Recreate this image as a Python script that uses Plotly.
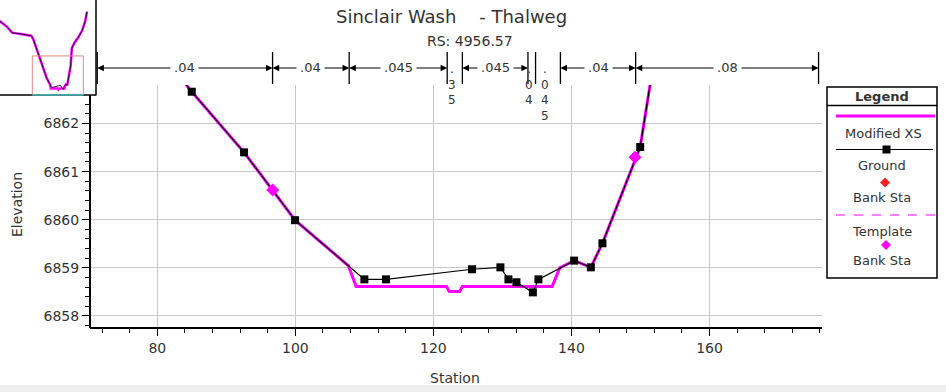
import plotly.graph_objects as go

W, H = 946, 392

# ---------------- data ----------------
ground_station = [0, 17, 28, 45, 68, 72, 84.99, 92.57, 99.96, 110.0, 113.14, 125.6, 129.71,
                  130.87, 132.03, 134.41, 135.22, 140.39, 142.81, 144.49, 149.96, 152.5,
                  158, 166, 174, 180, 184]
ground_elev = [6867.4, 6866.6, 6865.8, 6865.6, 6865.4, 6865.0, 6862.66, 6861.40, 6859.99,
               6858.76, 6858.76, 6858.97, 6859.01, 6858.76, 6858.70, 6858.49, 6858.76,
               6859.15, 6859.01, 6859.51, 6861.51, 6863.8, 6864.5, 6865.2, 6866.1, 6867.2,
               6868.5]

modified_station = [0, 17, 28, 45, 68, 72, 84.99, 92.57, 99.96, 107.7, 108.8, 121.9, 122.3,
                    123.8, 124.2, 137.2, 138.3, 140.39, 142.81, 144.49, 149.96, 152.5,
                    158, 166, 174, 180, 184]
modified_elev = [6867.4, 6866.6, 6865.8, 6865.6, 6865.4, 6865.0, 6862.66, 6861.40, 6859.99,
                 6859.04, 6858.61, 6858.61, 6858.51, 6858.51, 6858.61, 6858.61, 6859.0,
                 6859.15, 6859.01, 6859.51, 6861.51, 6863.8, 6864.5, 6865.2, 6866.1,
                 6867.2, 6868.5]

template_bank_station = [96.72, 149.2]
template_bank_elev = [6860.62, 6861.30]

n_breaks = [71.3, 96.7, 107.8, 122.0, 124.2, 133.7, 134.8, 138.4, 149.3, 175.8]
n_labels = [".04", ".04", ".045", ".35", ".045", ".04", ".045", ".04", ".08"]

x_range = [70.25, 176.3]
y_range = [6857.77, 6862.8]
inset_x_range = [3.07, 202.7]
inset_y_range = [6857.77, 6870.0]

title_text = "Sinclair Wash\u00a0\u00a0\u00a0\u00a0- Thalweg"
subtitle_text = "RS: 4956.57"

FONT = "DejaVu Sans"
TXT = "#333333"
MAG = "#FF00FF"


def px(x):
    return x / W


def py(y):
    return 1 - y / H


fig = go.Figure()

# main plot traces
fig.add_trace(go.Scatter(x=modified_station, y=modified_elev, mode="lines",
                         line=dict(color=MAG, width=3), xaxis="x", yaxis="y",
                         showlegend=False, hoverinfo="skip"))
fig.add_trace(go.Scatter(x=ground_station, y=ground_elev, mode="lines+markers",
                         line=dict(color="black", width=1.2),
                         marker=dict(symbol="square", size=8, color="black"),
                         xaxis="x", yaxis="y", showlegend=False))
fig.add_trace(go.Scatter(x=template_bank_station, y=template_bank_elev, mode="markers",
                         marker=dict(symbol="diamond", size=10, color=MAG),
                         xaxis="x", yaxis="y", showlegend=False))

# inset traces
fig.add_trace(go.Scatter(x=modified_station, y=modified_elev, mode="lines",
                         line=dict(color=MAG, width=2.5), xaxis="x2", yaxis="y2",
                         showlegend=False, hoverinfo="skip"))
fig.add_trace(go.Scatter(x=ground_station, y=ground_elev, mode="lines",
                         line=dict(color="#301040", width=1), xaxis="x2", yaxis="y2",
                         showlegend=False, hoverinfo="skip"))

shapes = []
annotations = []


def text(xp, yp, s, size=13, angle=0, bg=None):
    d = dict(x=px(xp), y=py(yp), xref="paper", yref="paper", text=s, showarrow=False,
             xanchor="center", yanchor="middle", textangle=angle,
             font=dict(family=FONT, size=size, color=TXT))
    if bg:
        d["bgcolor"] = bg
    return d


# main y-axis line (stops at inset bottom)
shapes.append(dict(type="line", xref="paper", yref="paper", x0=px(90), x1=px(90),
                   y0=py(95), y1=py(328), line=dict(color="black", width=2)))

# inset frame and view rectangle
shapes.append(dict(type="line", xref="paper", yref="paper", x0=px(96), x1=px(96),
                   y0=py(0), y1=py(95.5), line=dict(color="black", width=1.5)))
shapes.append(dict(type="line", xref="paper", yref="paper", x0=px(0), x1=px(96),
                   y0=py(95), y1=py(95), line=dict(color="black", width=1.5)))
shapes.append(dict(type="rect", xref="x2", yref="y2", x0=x_range[0], x1=x_range[1],
                   y0=y_range[0], y1=y_range[1], line=dict(color="#E08888", width=1)))
shapes.append(dict(type="line", xref="x2", yref="paper", x0=x_range[0], x1=x_range[1],
                   y0=py(95), y1=py(95), line=dict(color="#40B8B8", width=1.5)))

# Manning's n bars and arrows
Ya = py(68)
for b in n_breaks:
    shapes.append(dict(type="line", xref="x", yref="paper", x0=b, x1=b,
                       y0=py(52), y1=py(84), line=dict(color="black", width=1.3)))

for i, lab in enumerate(n_labels):
    a, b = n_breaks[i], n_breaks[i + 1]
    m = (a + b) / 2
    seg_px = (b - a) * 6.9
    if seg_px < len(lab) * 8 + 16:
        annotations.append(dict(x=m, y=py(60), xref="x", yref="paper", xshift=-2.5,
                                text="<br>".join(list(lab)), showarrow=False,
                                xanchor="center", yanchor="top",
                                font=dict(family=FONT, size=12, color=TXT)))
    else:
        for end in (a, b):
            annotations.append(dict(x=end, y=Ya, xref="x", yref="paper",
                                    ax=m, axref="x", ay=0, ayref="pixel",
                                    text="", showarrow=True, arrowhead=2,
                                    arrowsize=1.1, arrowwidth=1.2, arrowcolor="black",
                                    standoff=0, startstandoff=0))
for i, lab in enumerate(n_labels):
    a, b = n_breaks[i], n_breaks[i + 1]
    m = (a + b) / 2
    seg_px = (b - a) * 6.9
    if seg_px >= len(lab) * 8 + 16:
        annotations.append(dict(x=m, y=Ya, xref="x", yref="paper", text=lab,
                                showarrow=False, bgcolor="white", borderpad=3,
                                xanchor="center", yanchor="middle",
                                font=dict(family=FONT, size=13, color=TXT)))

# titles
annotations.append(text(451, 16, title_text, size=18))
annotations.append(text(470, 41, subtitle_text, size=14))
annotations.append(text(455, 378, "Station", size=14))
annotations.append(text(17, 205, "Elevation", size=14, angle=-90))

# custom legend
L, R, T, B = 827, 937, 87, 278
shapes.append(dict(type="rect", xref="paper", yref="paper", x0=px(L), x1=px(R),
                   y0=py(T), y1=py(B), line=dict(color="black", width=1.5),
                   fillcolor="white"))
shapes.append(dict(type="line", xref="paper", yref="paper", x0=px(L), x1=px(R),
                   y0=py(105.5), y1=py(105.5), line=dict(color="black", width=1.5)))
annotations.append(text(882, 96.5, "<b>Legend</b>"))
shapes.append(dict(type="line", xref="paper", yref="paper", x0=px(836), x1=px(935),
                   y0=py(116), y1=py(116), line=dict(color=MAG, width=3)))
annotations.append(text(883, 133, "Modified XS"))
shapes.append(dict(type="line", xref="paper", yref="paper", x0=px(836), x1=px(933),
                   y0=py(149.5), y1=py(149.5), line=dict(color="black", width=1)))
shapes.append(dict(type="rect", xref="paper", yref="paper", x0=px(882.5), x1=px(890.5),
                   y0=py(145.5), y1=py(153.5), line=dict(width=0), fillcolor="black"))
annotations.append(text(882, 165, "Ground"))


def diamond(cx, cy, r, color):
    path = "M {} {} L {} {} L {} {} L {} {} Z".format(
        px(cx), py(cy - r), px(cx + r), py(cy), px(cx), py(cy + r), px(cx - r), py(cy))
    return dict(type="path", xref="paper", yref="paper", path=path,
                fillcolor=color, line=dict(width=0))


shapes.append(diamond(885, 182.5, 5, "#FF2020"))
annotations.append(text(882, 197, "Bank Sta"))
shapes.append(dict(type="line", xref="paper", yref="paper", x0=px(836), x1=px(935),
                   y0=py(215), y1=py(215), line=dict(color=MAG, width=1.2, dash="dash")))
annotations.append(text(882, 231, "Template"))
shapes.append(diamond(886, 245, 5, MAG))
annotations.append(text(882, 260, "Bank Sta"))

# grey strip at bottom of window
shapes.append(dict(type="rect", xref="paper", yref="paper", x0=0, x1=1, y0=0, y1=py(385),
                   line=dict(width=0), fillcolor="#EFEFEF", layer="below"))

fig.update_layout(
    width=W, height=H,
    margin=dict(l=0, r=0, t=0, b=0),
    paper_bgcolor="white", plot_bgcolor="white",
    showlegend=False,
    xaxis=dict(domain=[px(90), px(822)], range=x_range, anchor="y",
               dtick=20, tick0=0, showgrid=True, gridcolor="#C8C8C8", gridwidth=1,
               ticks="outside", ticklen=7, tickcolor="black", tickwidth=1,
               minor=dict(dtick=4, tick0=0, ticks="outside", ticklen=4, tickcolor="black",
                          showgrid=False),
               showline=True, linecolor="black", linewidth=2, zeroline=False,
               tickfont=dict(family=FONT, size=14, color=TXT), automargin=False),
    yaxis=dict(domain=[py(327), py(85)], range=y_range, anchor="x",
               dtick=1, tick0=0, showgrid=True, gridcolor="#C8C8C8", gridwidth=1,
               ticks="outside", ticklen=7, tickcolor="black", tickwidth=1,
               minor=dict(dtick=0.2, tick0=0, ticks="outside", ticklen=4, tickcolor="black",
                          showgrid=False),
               showline=False, zeroline=False, tickformat="d",
               tickfont=dict(family=FONT, size=14, color=TXT), automargin=False),
    xaxis2=dict(domain=[0, px(96)], range=inset_x_range, anchor="y2", visible=False),
    yaxis2=dict(domain=[py(95), 1], range=inset_y_range, anchor="x2", visible=False),
    shapes=shapes,
    annotations=annotations,
)

fig.write_html("out.html", config={"displayModeBar": False},
               post_script="document.body.style.margin='0px';")
